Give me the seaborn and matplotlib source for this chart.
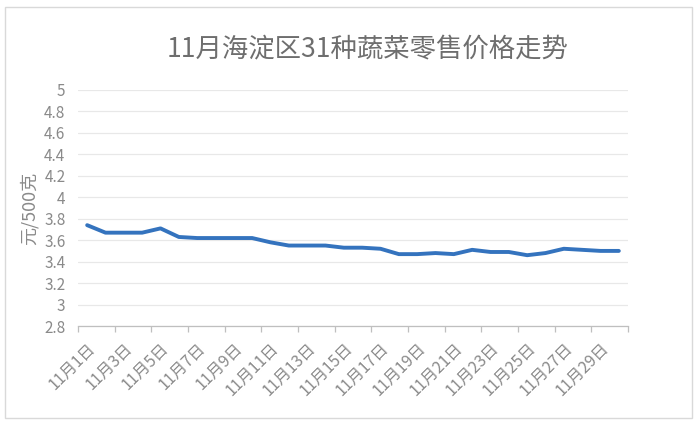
import matplotlib
matplotlib.use("Agg")
import matplotlib.pyplot as plt
import matplotlib.patches as mpatches
import numpy as np
import pandas as pd
import seaborn as sns

# 11月每日价格 (元/500克)
days = [f"11月{d}日" for d in range(1, 31)]
prices = [3.74, 3.67, 3.67, 3.67, 3.71, 3.63, 3.62, 3.62, 3.62, 3.62,
          3.58, 3.55, 3.55, 3.55, 3.53, 3.53, 3.52, 3.47, 3.47, 3.48,
          3.47, 3.51, 3.49, 3.49, 3.46, 3.48, 3.52, 3.51, 3.50, 3.50]
y_ticks = [2.8, 3, 3.2, 3.4, 3.6, 3.8, 4, 4.2, 4.4, 4.6, 4.8, 5]

df = pd.DataFrame({"day": days, "pos": np.arange(len(days)), "price": prices})

sns.set_theme(style="white")
plt.rcParams['font.family'] = ['Noto Sans CJK SC', 'DejaVu Sans']

fig = plt.figure(figsize=(7, 4.25), dpi=100)
ax = fig.add_axes([78/700, 1-326/425, 550/700, (326-90)/425])

sns.lineplot(data=df, x="pos", y="price", ax=ax, color="#3473BE", linewidth=2.8)

ax.set_xlim(-0.5, len(days) - 0.5)
ax.set_ylim(2.8, 5)
ax.set_yticks(y_ticks)
ax.set_yticklabels([f"{v:g}" for v in y_ticks])
ax.yaxis.grid(True, color="#e8e8e8", linewidth=0.9)
ax.set_axisbelow(True)

# tick marks between categories, labels on every 2nd category
ax.set_xticks(np.arange(-0.5, len(days), 2))
ax.set_xticklabels([])
ax.set_xticks(np.arange(0, len(days), 2), minor=True)
ax.set_xticklabels(days[::2], minor=True, rotation=45, ha="right",
                   rotation_mode="anchor", fontsize=11.5, color="#8a8a8a")
ax.tick_params(axis="x", which="major", length=4, width=0.9, color="#bfbfbf", direction="out", bottom=True)
ax.tick_params(axis="x", which="minor", length=0, pad=10)
ax.tick_params(axis="y", length=0, pad=9, labelsize=11, labelcolor="#8a8a8a")

for s in ["top", "right", "left"]:
    ax.spines[s].set_visible(False)
ax.spines["bottom"].set_color("#bfbfbf")
ax.spines["bottom"].set_linewidth(0.9)

ax.set_xlabel("")
ax.set_ylabel("元/500克", fontsize=13, color="#8a8a8a", labelpad=4)

fig.text(368/700, 1-50/425, "11月海淀区31种蔬菜零售价格走势", ha="center", va="center",
         fontsize=19, color="#6e6e6e")

fig.patches.append(mpatches.Rectangle((5/700, 7/425), 687/700, 411/425, transform=fig.transFigure,
                                      fill=False, edgecolor="#d9d9d9", linewidth=1))

fig.savefig("out.png", dpi=100)
